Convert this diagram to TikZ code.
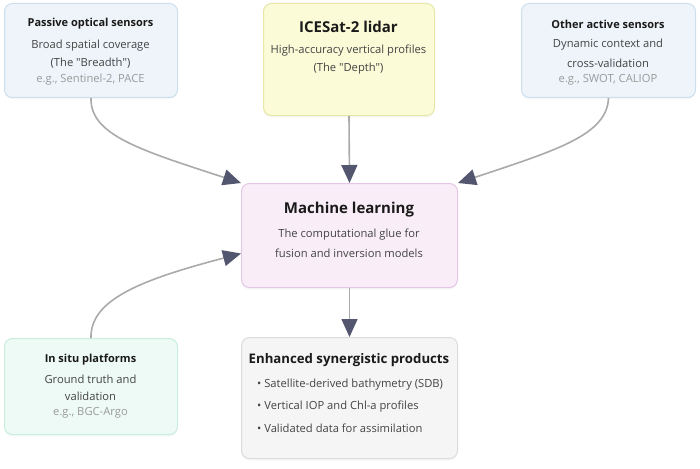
\documentclass[tikz,border=0pt]{standalone}
\usepackage{fontspec}
\setmainfont{Open Sans}
\usetikzlibrary{arrows.meta,shadows}
\definecolor{bluefill}{HTML}{EEF4FA}
\definecolor{blueline}{HTML}{CCDFEE}
\definecolor{yelfill}{HTML}{FBFBD8}
\definecolor{yelline}{HTML}{E6E6A6}
\definecolor{pinkfill}{HTML}{F9EEF8}
\definecolor{pinkline}{HTML}{E6C6E6}
\definecolor{greenfill}{HTML}{EEFAF5}
\definecolor{greenline}{HTML}{C8EEDC}
\definecolor{grayfill}{HTML}{F5F5F5}
\definecolor{grayline}{HTML}{DCDCDC}
\definecolor{linec}{HTML}{AAAAAA}
\definecolor{tipc}{HTML}{52566E}
\definecolor{titlec}{HTML}{1A1A1A}
\definecolor{bodyc}{HTML}{444444}
\definecolor{notec}{HTML}{9A9A9A}
\tikzset{
  box/.style={draw, line width=1pt, rounded corners=8pt, inner sep=0pt, anchor=north west,
    drop shadow={shadow xshift=0pt, shadow yshift=-2pt, opacity=0.06}},
  ttl/.style={font=\bfseries\fontsize{11}{13}\selectfont, text=titlec, inner sep=0pt},
  bigttl/.style={font=\bfseries\fontsize{15}{18}\selectfont, text=titlec, inner sep=0pt},
  bodytxt/.style={font=\fontsize{11.2}{13}\selectfont, text=bodyc, inner sep=0pt},
  notetxt/.style={font=\fontsize{11.2}{13}\selectfont, text=notec, inner sep=0pt},
  conn/.style={draw=linec, line width=1.6pt, -{Triangle[length=18pt,width=16pt,color=tipc]}},
}
\begin{document}
\begin{tikzpicture}[x=1pt,y=-1pt]
\useasboundingbox[fill=white] (0,0) rectangle (700,468);
% boxes
\node[box, fill=bluefill, draw=blueline, minimum width=173pt, minimum height=94pt] (passive) at (4,3) {};
\node[box, fill=yelfill, draw=yelline, minimum width=171pt, minimum height=112pt] (icesat) at (263,3) {};
\node[box, fill=bluefill, draw=blueline, minimum width=174pt, minimum height=94pt] (other) at (521,3) {};
\node[box, fill=pinkfill, draw=pinkline, minimum width=216pt, minimum height=104pt] (ml) at (241,183) {};
\node[box, fill=greenfill, draw=greenline, minimum width=173pt, minimum height=96pt] (insitu) at (4,338) {};
\node[box, fill=grayfill, draw=grayline, minimum width=216pt, minimum height=121pt] (prod) at (241,337) {};
% passive text
\node[ttl] (p1) at (90.5,24) {Passive optical sensors};
\node[bodytxt] (p2) at (90.5,46) {Broad spatial coverage};
\node[bodytxt] (p3) at (90.5,63) {(The \textquotedbl Breadth\textquotedbl)};
\node[notetxt] (p4) at (90.5,80) {e.g., Sentinel-2, PACE};
% icesat text
\node[bigttl] (i1) at (348.5,27) {ICESat-2 lidar};
\node[bodytxt] (i2) at (348.5,51) {High-accuracy vertical profiles};
\node[bodytxt] (i3) at (348.5,69) {(The \textquotedbl Depth\textquotedbl)};
% other text
\node[ttl] (o1) at (608,24) {Other active sensors};
\node[bodytxt] (o2) at (608,45) {Dynamic context and};
\node[bodytxt] (o3) at (608,63) {cross-validation};
\node[notetxt] (o4) at (608,80) {e.g., SWOT, CALIOP};
% ml text
\node[bigttl] (m1) at (349,210) {Machine learning};
\node[bodytxt] (m2) at (349,235) {The computational glue for};
\node[bodytxt] (m3) at (349,253) {fusion and inversion models};
% in situ text
\node[ttl] (s1) at (90.5,360) {In situ platforms};
\node[bodytxt] (s2) at (90.5,379) {Ground truth and};
\node[bodytxt] (s3) at (90.5,396) {validation};
\node[notetxt] (s4) at (90.5,413) {e.g., BGC-Argo};
% products text
\node[bigttl, font=\bfseries\fontsize{13.2}{16}\selectfont] (e1) at (349,360) {Enhanced synergistic products};
\node[bodytxt, anchor=west] (e2) at (257,385) {\textbullet\ Satellite-derived bathymetry (SDB)};
\node[bodytxt, anchor=west] (e3) at (257,407) {\textbullet\ Vertical IOP and Chl-a profiles};
\node[bodytxt, anchor=west] (e4) at (257,428) {\textbullet\ Validated data for assimilation};
% connectors
\draw[conn] (passive.south) .. controls (90,135) and (140,150) .. (ml.north west);
\draw[conn] (other.south) .. controls (607,135) and (557,150) .. (ml.north east);
\draw[conn] (icesat.south) -- (ml.north);
\draw[conn] (insitu.north) .. controls (90,300) and (140,280) .. ([yshift=-18pt]ml.west);
\draw[conn] (ml.south) -- (prod.north);
\end{tikzpicture}
\end{document}
